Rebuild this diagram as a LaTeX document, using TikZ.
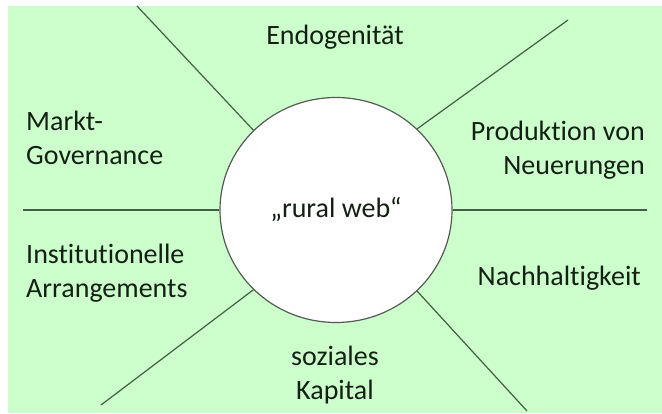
\documentclass[tikz,border=0pt]{standalone}
\usepackage{fontspec}
\setmainfont{Carlito}[Ligatures=NoCommon]
\usetikzlibrary{shapes.geometric}
\definecolor{webgreen}{RGB}{204,255,204}
\definecolor{spokegreen}{RGB}{65,95,65}
\definecolor{rimgray}{RGB}{85,90,85}
\definecolor{textdark}{RGB}{20,32,20}

\begin{document}
\begin{tikzpicture}[x=1pt, y=-1pt, font=\fontsize{28}{34}\selectfont, every node/.style={text=textdark, inner sep=0pt}]
\useasboundingbox (0,0) rectangle (662,414);
\fill[webgreen] (8,6) rectangle (662,413);
% centre of the web
\node[draw=rimgray, line width=1.2pt, ellipse, fill=white, minimum width=232pt, minimum height=225pt] (web) at (336,210) {„rural web“};
% free ends of the spokes
\coordinate (ul) at (137,6);
\coordinate (ur) at (568,20);
\coordinate (ll) at (101,405);
\coordinate (lr) at (527,411);
\coordinate (wl) at (23,210);
\coordinate (wr) at (647,210);
\draw[line width=1.2pt, spokegreen] (ul) -- (web.136);
\draw[line width=1.2pt, spokegreen] (ur) -- (web.45);
\draw[line width=1.2pt, spokegreen] (ll) -- (web.224);
\draw[line width=1.2pt, spokegreen] (lr) -- (web.315);
\draw[line width=1.2pt, spokegreen] (wl) -- (web.west);
\draw[line width=1.2pt, spokegreen] (wr) -- (web.east);
% the six dimensions
\node (endo) at (335,37) {Endogenität};
\node[anchor=west, align=left] (markt) at (26,138) {Markt-\\Governance};
\node[anchor=east, align=right] (prod) at (645,150) {Produktion von\\Neuerungen};
\node[anchor=west, align=left] (inst) at (26,273) {Institutionelle\\Arrangements};
\node[anchor=east] (nach) at (641,278) {Nachhaltigkeit};
\node[align=center] (sozial) at (335,375) {soziales\\Kapital};
\end{tikzpicture}
\end{document}
